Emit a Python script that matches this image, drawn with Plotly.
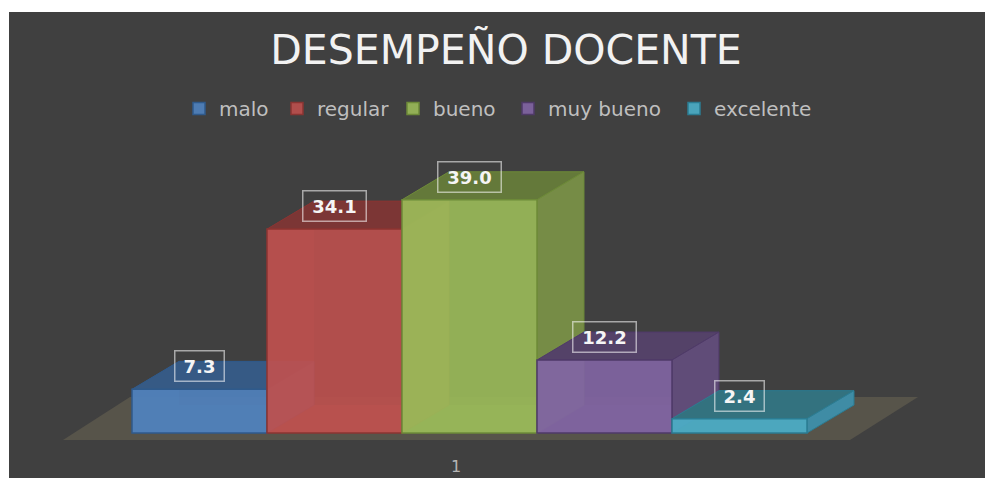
import plotly.graph_objects as go

# ---- data ----
categories = ["malo", "regular", "bueno", "muy bueno", "excelente"]
values = [7.3, 34.1, 39.0, 12.2, 2.4]
value_labels = ["7.3", "34.1", "39.0", "12.2", "2.4"]
axis_label = "1"
title_text = "DESEMPEÑO DOCENTE"

# ---- style ----
front = ["rgba(79,129,189,0.92)", "rgba(192,80,77,0.88)", "rgba(155,187,89,0.90)",
         "rgba(128,100,162,0.92)", "rgba(75,172,198,0.92)"]
edge = ["#2f5a8c", "#8a3432", "#6d8a38", "#4f3a68", "#2b7c92"]
top = ["#365a85", "#7c3635", "#64793a", "#544268", "#33727f"]
side = ["#3f6a9e", "#8f4240", "#768c46", "#604c78", "#3f8ca5"]
inner = ["rgba(120,160,215,0.25)", "rgba(220,110,100,0.25)", "rgba(190,215,120,0.20)",
         "rgba(160,130,190,0.25)", "rgba(110,200,225,0.2)"]
legend_w = [53, 71, 70, 121, 102]
box_w = [48, 62, 62, 62, 48]

BG = "#404040"
FLOOR = "#57544a"
DX, DY = 0.348, 4.68          # depth offset of the fake 3D, in axis units
BOTTOM = 455
XR = [(9 - 132) / 135, (985 - 132) / 135]
YR = [(433 - BOTTOM) / 5.98, (433 - 12) / 5.98]

fig = go.Figure()


def face(xs, ys, fill, line, width=1):
    fig.add_trace(go.Scatter(
        x=xs, y=ys, mode="lines", fill="toself", fillcolor=fill,
        line=dict(color=line, width=width), showlegend=False, hoverinfo="skip",
        xaxis="x", yaxis="y"))


for i, v in enumerate(values):
    l, r = i, i + 1
    # floor of the box and left wall, seen through the front
    face([l, r, r + DX, l + DX, l], [0, 0, DY, DY, 0], inner[i], "rgba(0,0,0,0)", 0)
    face([l, l + DX, l + DX, l, l], [0, DY, v + DY, v, 0], inner[i], "rgba(0,0,0,0)", 0)
    # top and right side
    face([l, r, r + DX, l + DX, l], [v, v, v + DY, v + DY, v], top[i], edge[i])
    face([r, r + DX, r + DX, r, r], [0, DY, v + DY, v, 0], side[i], edge[i])

for i, (c, v) in enumerate(zip(categories, values)):
    fig.add_trace(go.Bar(
        x=[i + 0.5], y=[v], width=1, name=c,
        marker=dict(color=front[i], line=dict(color=edge[i], width=1.5)),
        legendwidth=legend_w[i], xaxis="x2", yaxis="y2",
        hovertemplate=f"{c}: {v}<extra></extra>"))

for i, (t, v) in enumerate(zip(value_labels, values)):
    fig.add_annotation(
        x=i + 0.5, y=v, xref="x", yref="y", yshift=23, text=f"<b>{t}</b>", showarrow=False,
        font=dict(family="DejaVu Sans", size=18, color="#f5f5f5"),
        width=box_w[i], height=29,
        bordercolor="rgba(255,255,255,0.55)", borderwidth=1.5, borderpad=0,
        bgcolor="rgba(0,0,0,0)")

shapes = [
    dict(type="rect", xref="paper", yref="paper", x0=0, x1=1, y0=-0.1, y1=1,
         fillcolor=BG, line_width=0, layer="below"),
    dict(type="path", xref="x", yref="y", layer="below", fillcolor=FLOOR, line_width=0,
         path=f"M {(63-132)/135} {-7/5.98} L {(850-132)/135} {-7/5.98} "
              f"L {(918-132)/135} {36/5.98} L {(130-132)/135} {36/5.98} Z"),
]

hidden = dict(visible=False, showgrid=False, zeroline=False)
fig.update_layout(
    width=985, height=478, autosize=False,
    margin=dict(l=9, r=0, t=12, b=478 - BOTTOM),
    paper_bgcolor="white", plot_bgcolor="rgba(0,0,0,0)",
    barmode="overlay", shapes=shapes, hovermode="closest",
    title=dict(text=title_text, x=506 / 985, xanchor="center",
               xref="container", y=1 - 50 / 478, yref="container", yanchor="middle",
               font=dict(family="DejaVu Sans", size=41, color="#f2f2f2")),
    showlegend=True,
    legend=dict(orientation="h", x=(179 - 9) / 976, xanchor="left",
                y=(BOTTOM - 89) / (BOTTOM - 12),
                yanchor="top", bgcolor="rgba(0,0,0,0)", traceorder="normal",
                font=dict(family="DejaVu Sans", size=20, color="#bfbfbf")),
    xaxis=dict(range=XR, showgrid=False, zeroline=False, showline=False, tickmode="array",
               tickvals=[2.4], ticktext=[axis_label], ticklen=0,
               tickfont=dict(family="DejaVu Sans", size=16, color="#b5b5b5")),
    yaxis=dict(range=YR, visible=False, showgrid=False, zeroline=False),
    xaxis2=dict(range=XR, overlaying="x", **hidden),
    yaxis2=dict(range=YR, overlaying="y", **hidden),
)

fig.write_html("out.html", config={"displayModeBar": False},
               post_script="document.body.style.margin='0';document.documentElement.style.overflow='hidden';")
